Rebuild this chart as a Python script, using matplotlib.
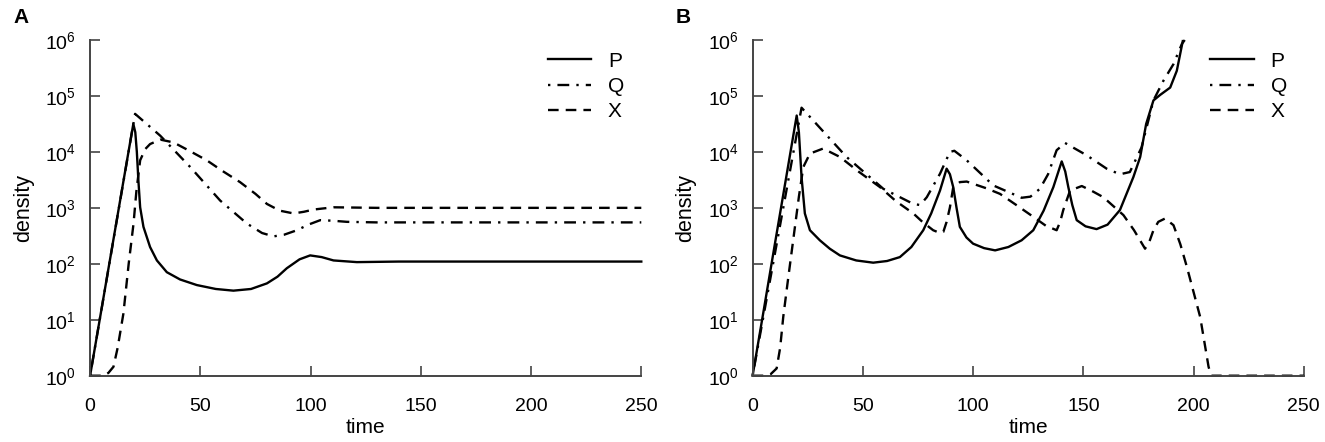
import numpy as np
import matplotlib
matplotlib.use("Agg")
import matplotlib.pyplot as plt

plt.rcParams["font.family"] = ["Liberation Sans", "DejaVu Sans"]
plt.rcParams["mathtext.fontset"] = "custom"
plt.rcParams["mathtext.rm"] = "Liberation Sans"
plt.rcParams["mathtext.it"] = "Liberation Sans"

# Panel A values (time, log10 density)
a_p_t = [0, 5, 10, 15, 19.6, 20.5, 21.2, 21.9, 22.7, 24.2, 27.2, 30.3, 34.8, 40.8, 48.4, 57, 65, 73, 80.2, 85, 89.2, 95, 99.8, 105, 110.4, 121, 140, 250]
a_p_log = [0, 1.15, 2.3, 3.45, 4.5, 4.35, 4.0, 3.49, 3.01, 2.66, 2.30, 2.06, 1.85, 1.72, 1.62, 1.55, 1.52, 1.55, 1.65, 1.77, 1.92, 2.08, 2.15, 2.12, 2.06, 2.03, 2.04, 2.04]

a_q_t = [0, 20.4, 31.8, 45.4, 59, 71.1, 78, 83.2, 88, 93.8, 99, 104.4, 110, 116.5, 130, 250]
a_q_log = [0, 4.68, 4.29, 3.73, 3.13, 2.72, 2.55, 2.49, 2.52, 2.60, 2.70, 2.78, 2.77, 2.75, 2.74, 2.74]

a_x_t = [0, 3, 6, 8.3, 10.6, 12.5, 15.1, 17.5, 19.7, 21, 22.7, 25, 27.2, 31.8, 37.8, 45, 52.9, 60, 68, 75, 80.2, 86, 92.3, 97, 101.4, 110.4, 130, 250]
a_x_log = [0, 0, 0, 0.05, 0.16, 0.5, 1.11, 2.0, 2.72, 3.3, 3.85, 4.05, 4.14, 4.22, 4.17, 4.02, 3.85, 3.66, 3.46, 3.25, 3.07, 2.95, 2.90, 2.93, 2.97, 3.01, 3.0, 3.0]

# Panel B values
b_p_t = [0, 5, 10, 15, 20, 21, 22.2, 23.7, 26, 30.5, 35, 39.6, 47, 54.7, 61, 66.8, 72, 77.4, 81, 85, 88, 89.5, 91, 92.5, 94, 97, 100, 105, 110,
         116, 122, 127.3, 132, 136.4, 140.2, 141.8, 143.2, 145, 147, 151, 156, 161, 166.6, 172.7, 175.8, 178.5, 181.8, 184.9, 189.4, 192.4, 195.1]
b_p_log = [0, 1.16, 2.33, 3.49, 4.65, 4.35, 3.55, 2.90, 2.6, 2.42, 2.27, 2.15, 2.06, 2.02, 2.05, 2.12, 2.3, 2.60, 2.9, 3.31, 3.70, 3.6, 3.37, 3.0, 2.66, 2.47, 2.36, 2.28, 2.24,
           2.3, 2.42, 2.60, 2.95, 3.37, 3.83, 3.65, 3.37, 3.05, 2.78, 2.67, 2.62, 2.7, 2.96, 3.55, 3.91, 4.5, 4.92, 5.02, 5.15, 5.45, 5.98]

b_q_t = [0, 22.2, 42.6, 59.3, 72.9, 76, 79, 85, 89.5, 91.5, 97.1, 109.2, 122, 126, 130.3, 134, 137.9, 141.7, 151.5, 160.6, 166.6, 171.1, 176.4, 181.8, 186.3, 190.9, 194.7, 196]
b_q_log = [0, 4.79, 3.91, 3.34, 3.07, 3.05, 3.19, 3.61, 4.0, 4.02, 3.85, 3.40, 3.18, 3.2, 3.34, 3.6, 4.03, 4.16, 3.94, 3.70, 3.60, 3.64, 4.08, 4.92, 5.27, 5.57, 5.93, 6.0]

b_x_t = [0, 5, 8, 10.9, 12.5, 13.9, 16, 18.4, 21, 23, 26, 32, 39.6, 48, 57.8, 65, 72.9, 77, 81.9, 85, 86.5, 88, 89.5, 91, 94, 97.1, 100, 106, 112.2, 120,
         127.3, 133, 137.9, 139.5, 140.9, 144, 149.3, 154, 159.1, 168.2, 173, 178, 180, 181.8, 184, 187.1, 190.9, 194, 197, 203, 206.8, 208, 250]
b_x_log = [0, 0, 0.02, 0.13, 0.5, 1.05, 1.7, 2.42, 3.2, 3.73, 3.97, 4.06, 3.91, 3.65, 3.37, 3.12, 2.90, 2.75, 2.60, 2.55, 2.57, 2.75, 3.01, 3.37, 3.46, 3.47, 3.43, 3.35, 3.25, 3.04,
           2.84, 2.68, 2.60, 2.75, 2.96, 3.31, 3.39, 3.3, 3.19, 2.87, 2.6, 2.27, 2.4, 2.60, 2.75, 2.81, 2.69, 2.35, 1.94, 1.05, 0.16, 0, 0]

x_ticks = [0, 50, 100, 150, 200, 250]
y_ticks = [1e0, 1e1, 1e2, 1e3, 1e4, 1e5, 1e6]
y_labels = [r"$10^{%d}$" % i for i in range(7)]

fig = plt.figure(figsize=(13.25, 4.42), dpi=100)
ax_a = fig.add_axes([0.068, 0.150, 0.416, 0.7595])
ax_b = fig.add_axes([0.568, 0.150, 0.416, 0.7595])

panels = [
    (ax_a, "A", (a_p_t, a_p_log), (a_q_t, a_q_log), (a_x_t, a_x_log)),
    (ax_b, "B", (b_p_t, b_p_log), (b_q_t, b_q_log), (b_x_t, b_x_log)),
]

spine_col = "#444444"
for ax, letter, p, q, x in panels:
    ax.plot(p[0], 10 ** np.array(p[1]), color="black", lw=1.7, ls="-", label="P", clip_on=False)
    ax.plot(q[0], 10 ** np.array(q[1]), color="black", lw=1.7, ls=(0, (1, 3, 5, 3)), label="Q", clip_on=False)
    ax.plot(x[0], 10 ** np.array(x[1]), color="black", lw=1.7, ls=(0, (4.5, 3)), label="X", clip_on=False)

    ax.set_yscale("log")
    ax.set_xlim(0, 250)
    ax.set_ylim(1, 1e6)
    ax.set_xticks(x_ticks)
    ax.set_yticks(y_ticks)
    ax.set_yticklabels(y_labels)
    ax.minorticks_off()
    ax.tick_params(direction="in", length=7, width=1.2, color=spine_col, labelsize=14)
    ax.tick_params(axis="x", pad=16)
    ax.tick_params(axis="y", pad=10)
    for s in ["top", "right"]:
        ax.spines[s].set_visible(False)
    for s in ["left", "bottom"]:
        ax.spines[s].set_color(spine_col)
        ax.spines[s].set_linewidth(1.4)
    ax.set_xlabel("time", fontsize=15, labelpad=2)
    ax.set_ylabel("density", fontsize=15.5, labelpad=8)
    ax.legend(loc="upper left", bbox_to_anchor=(0.83, 0.965), frameon=False, fontsize=15,
              handlelength=2.1, handletextpad=0.8, labelspacing=0.3, borderpad=0, borderaxespad=0)

fig.text(0.010, 0.948, "A", fontsize=15, fontweight="bold")
fig.text(0.510, 0.948, "B", fontsize=15, fontweight="bold")

fig.savefig("out.png", dpi=100)
